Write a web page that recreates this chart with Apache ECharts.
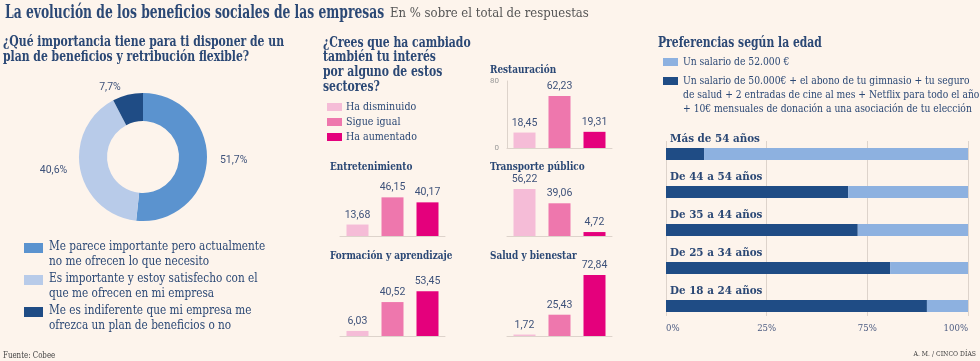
<!DOCTYPE html>
<html><head><meta charset="utf-8">
<script src="https://cdn.jsdelivr.net/npm/echarts@6/dist/echarts.min.js"></script>
<style>html,body{margin:0;padding:0;background:#fdf4ec}#c{width:980px;height:361px}</style>
</head><body><div id="c"></div>
<script>
// ---------- DATA ----------
const donutNames = [
  'Me parece importante pero actualmente\nno me ofrecen lo que necesito',
  'Es importante y estoy satisfecho con el\nque me ofrecen en mi empresa',
  'Me es indiferente que mi empresa me\nofrezca un plan de beneficios o no'
];
const donutValues = [51.7, 40.6, 7.7];

const sectorCategories = ['Ha disminuido', 'Sigue igual', 'Ha aumentado'];
const sectorTitles = ['Restauración', 'Entretenimiento', 'Transporte público', 'Formación y aprendizaje', 'Salud y bienestar'];
const restauracion = [18.45, 62.23, 19.31];
const entretenimiento = [13.68, 46.15, 40.17];
const transporte = [56.22, 39.06, 4.72];
const formacion = [6.03, 40.52, 53.45];
const salud = [1.72, 25.43, 72.84];
const sectorAxisTicks = [0, 80];

const ageGroups = ['Más de 54 años', 'De 44 a 54 años', 'De 35 a 44 años', 'De 25 a 34 años', 'De 18 a 24 años'];
const salarioPack = [12.6, 60.3, 63.5, 74.2, 86.4];
const salario52k = [87.4, 39.7, 36.5, 25.8, 13.6];
const ageTickLabels = ['0%', '25%', '75%', '100%'];
const ageLegend = ['Un salario de 52.000 €',
  'Un salario de 50.000€ + el abono de tu gimnasio + tu seguro\nde salud + 2 entradas de cine al mes + Netflix para todo el año\n+ 10€ mensuales de donación a una asociación de tu elección'];

// ---------- STYLE ----------
const SERIF = '"DejaVu Serif Condensed","DejaVu Serif",serif';
const NUM = 'Roboto,sans-serif';
const NAVY = '#2b4875';
const donutColors = ['#5b93cf', '#b8cbe9', '#1f4c85'];
const pinkColors = ['#f5bcd7', '#ee77ad', '#e4007c'];
const ageColors = ['#1f4c85', '#8db1e0'];
const GRIDC = '#ddd3cb';

const fmt = v => v.toFixed(2).replace('.', ',');

const panels = [
  [restauracion, 507, 81, true],
  [entretenimiento, 340, 169, false],
  [transporte, 507, 169, false],
  [formacion, 340, 269, false],
  [salud, 507, 269, false]
];
const titlePos = [[490, 70], [330, 167], [490, 167], [330, 256], [490, 256]];

const grids = [], xAxes = [], yAxes = [], series = [];
panels.forEach((p, i) => {
  grids.push({left: p[1], top: p[2], width: 105, height: 67});
  xAxes.push({type: 'category', gridIndex: i, data: sectorCategories,
    axisLine: {show: true, lineStyle: {color: GRIDC}}, axisTick: {show: false}, axisLabel: {show: false}});
  yAxes.push({type: 'value', gridIndex: i, min: sectorAxisTicks[0], max: sectorAxisTicks[1], interval: 80,
    axisLine: {show: p[3], lineStyle: {color: GRIDC}}, axisTick: {show: false}, splitLine: {show: false},
    axisLabel: {show: p[3], fontFamily: NUM, fontSize: 8, color: '#999', margin: 8}});
  series.push({type: 'bar', xAxisIndex: i, yAxisIndex: i, barWidth: 22,
    data: p[0].map((v, k) => ({value: v, itemStyle: {color: pinkColors[k]}})),
    label: {show: true, position: 'top', distance: 4, formatter: d => fmt(d.value),
      fontFamily: NUM, fontSize: 10.5, color: '#3e527a'}});
});

grids.push({left: 666, right: 12, top: 135, height: 190});
xAxes.push({type: 'value', gridIndex: 5, min: 0, max: 100, show: false});
yAxes.push({type: 'category', gridIndex: 5, data: ageGroups, inverse: true,
  axisLine: {show: false}, axisTick: {show: false},
  axisLabel: {inside: true, margin: 4, verticalAlign: 'bottom', padding: [0, 0, 9, 0],
    fontFamily: SERIF, fontWeight: 'bold', fontSize: 11.5, color: NAVY}, z: 5});
grids.push({left: 666, right: 12, top: 141, height: 175});
xAxes.push({type: 'value', gridIndex: 6, min: 0, max: 100, interval: 100 / 3,
  axisLine: {show: false}, axisTick: {show: false},
  splitLine: {show: true, lineStyle: {color: GRIDC, width: 1}},
  axisLabel: {margin: 8, fontFamily: SERIF, fontSize: 9.5, color: '#4a5a80',
    formatter: v => ageTickLabels[Math.round(v / (100 / 3))] || '',
    alignMinLabel: 'left', alignMaxLabel: 'right'}});
yAxes.push({type: 'value', gridIndex: 6, show: false, min: 0, max: 1});
series.push({type: 'bar', name: 'pack', xAxisIndex: 5, yAxisIndex: 5, stack: 'age', barWidth: 12,
  data: salarioPack, itemStyle: {color: ageColors[0]}, z: 3});
series.push({type: 'bar', name: '52k', xAxisIndex: 5, yAxisIndex: 5, stack: 'age', barWidth: 12,
  data: salario52k, itemStyle: {color: ageColors[1]}, z: 3});

series.push({type: 'pie', center: [143, 157], radius: [36, 64], startAngle: 90, clockwise: true,
  avoidLabelOverlap: false,
  data: donutValues.map((v, k) => ({value: v, name: donutNames[k], itemStyle: {color: donutColors[k]}})),
  label: {show: true, position: 'outside', formatter: d => String(d.value).replace('.', ',') + '%',
    fontFamily: NUM, fontSize: 10.5, color: '#3e527a'},
  labelLine: {show: false, length: 8, length2: 0}, emphasis: {disabled: true}});

// ---------- TEXT / LEGENDS ----------
const txt = (x, y, text, font, fill, sx, extra) => ({type: 'text', x, y, scaleX: sx || 1, silent: true,
  style: Object.assign({text, font, fill: fill || NAVY, verticalAlign: 'middle'}, extra || {})});
const rect = (x, y, w, h, c) => ({type: 'rect', silent: true, shape: {x, y, width: w, height: h}, style: {fill: c}});

const graphics = [
  txt(5, 13, 'La evolución de los beneficios sociales de las empresas', 'bold 18px ' + SERIF, NAVY, 0.76),
  txt(390, 14, 'En % sobre el total de respuestas', '13px ' + SERIF, '#555', 1),
  txt(3, 50, '¿Qué importancia tiene para ti disponer de un\nplan de beneficios y retribución flexible?', 'bold 14.5px ' + SERIF, NAVY, 0.83, {lineHeight: 15}),
  txt(323, 65, '¿Crees que ha cambiado\ntambién tu interés\npor alguno de estos\nsectores?', 'bold 14.5px ' + SERIF, NAVY, 0.83, {lineHeight: 14.7}),
  txt(658, 43, 'Preferencias según la edad', 'bold 15px ' + SERIF, NAVY, 0.8),
  txt(3, 356, 'Fuente: Cobee', '9px ' + SERIF, '#444', 0.87),
  txt(976, 354, 'A. M. / CINCO DÍAS', '8px ' + SERIF, '#444', 0.85, {align: 'right'})
];
donutNames.forEach((n, k) => {
  const y0 = 243 + 32 * k;
  graphics.push(rect(24, y0, 19, 10, donutColors[k]));
  graphics.push(txt(49, y0 + 11, n, '12.5px ' + SERIF, NAVY, 0.935, {lineHeight: 14.5}));
});
sectorCategories.forEach((n, k) => {
  const y0 = 103 + 15 * k;
  graphics.push(rect(327, y0, 15, 8, pinkColors[k]));
  graphics.push(txt(346, y0 + 4, n, '11.5px ' + SERIF, NAVY, 0.92));
});
sectorTitles.forEach((t, k) => graphics.push(txt(titlePos[k][0], titlePos[k][1], t, 'bold 11px ' + SERIF, NAVY, 0.9)));
graphics.push(rect(663, 58, 15, 8, ageColors[1]));
graphics.push(txt(683, 62, ageLegend[0], '11px ' + SERIF, NAVY, 0.93));
graphics.push(rect(663, 77, 15, 8, ageColors[0]));
graphics.push(txt(683, 95, ageLegend[1], '11px ' + SERIF, NAVY, 0.93, {lineHeight: 14}));

const chart = echarts.init(document.getElementById('c'), null, {renderer: 'canvas'});
chart.setOption({
  backgroundColor: '#fdf4ec',
  animation: false,
  grid: grids, xAxis: xAxes, yAxis: yAxes, series,
  graphic: graphics
});
</script></body></html>
